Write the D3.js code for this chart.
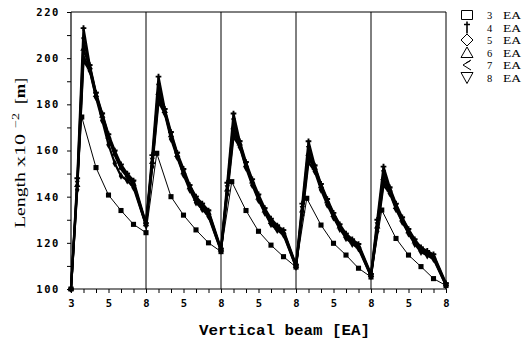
<!DOCTYPE html>
<html><head><meta charset="utf-8">
<script src="https://cdn.jsdelivr.net/npm/d3@7"></script>
<style>body{margin:0;background:#fff}svg{display:block}</style>
</head><body>
<svg id="c" width="529" height="341"></svg>
<script>
// ---- data ----
const seriesNames = ["3 EA", "4 EA", "5 EA", "6 EA", "7 EA", "8 EA"];
const panelTickLabels = ["3", "", "", "5", "", "", "8"];
const yTickValues = [100, 110, 120, 130, 140, 150, 160, 170, 180, 190, 200, 210, 220];
const yLabelValues = [100, 120, 140, 160, 180, 200, 220];
const panelCount = 5;
const ticksPerPanel = 6;
// positions of the points inside one panel (in tick steps)
const sqX = [0.86, 2, 3, 4, 5, 6];
const thickX = [0.5, 1, 1.5, 2, 2.5, 3, 3.5, 4, 4.5, 5, 6];

const ea3 = [100,
  174.5, 152.6, 140.7, 134, 128, 124.4,
  158.8, 140, 132, 125.6, 120, 116.2,
  146.5, 134, 125, 119, 114, 109.5,
  139.3, 127.7, 119.8, 114.7, 109, 105.2,
  134.2, 121.9, 114.7, 109.7, 104.5, 101.5];
const ea4 = [100,
  148, 213, 197, 185, 176, 167, 160, 154, 150, 147, 128.5,
  158, 192, 178, 168, 159, 152, 145, 140, 137, 134, 117.5,
  146, 176, 164, 155, 147.5, 141, 135, 130.5, 127.5, 125.5, 110.5,
  137, 164, 153.5, 145.5, 139, 133, 128, 124, 121.5, 119.5, 106.5,
  130, 153, 144, 137, 131, 126, 121.5, 118, 116.5, 115, 102.5];
const ea5 = [100,
  143, 199, 194.5, 183, 173, 162.5, 154.5, 149, 147, 144, 127.5,
  153, 181, 176, 165, 157, 149.5, 143, 137.5, 134.5, 131.5, 116.5,
  141, 166, 161.5, 152.5, 145, 138.5, 133, 128, 125.5, 123.5, 109.5,
  132, 155, 151, 143, 136.5, 131, 126, 122, 119.5, 117.5, 105.5,
  125, 145, 141.5, 134.5, 129, 124, 119.5, 116, 114.5, 113, 101.5];
const ea6 = [100,
  145, 204, 196, 184, 175, 166, 158.5, 152.5, 149, 145.5, 128,
  155, 185, 177, 166.5, 158, 150.5, 144, 139, 136, 133, 117,
  143, 170, 163, 153.5, 146.5, 139.5, 134, 129, 126.5, 124.5, 110,
  134, 158.5, 152.5, 144.5, 138, 132, 127, 123, 120.5, 118.5, 106,
  127, 148, 143, 135.5, 130, 125, 120.5, 117, 115.5, 114, 102];
const ea7 = [100,
  144, 201, 195, 183.5, 174.5, 165.5, 158, 152, 148.5, 145, 127.5,
  154, 183, 176.5, 166, 157.5, 150, 143.5, 138, 135, 132, 116.5,
  142, 168, 162, 153, 146, 139, 133.5, 128.5, 126, 124, 109.5,
  133, 157, 152, 144, 137.5, 131.5, 126.5, 122.5, 120, 118, 105.5,
  126, 146.5, 142, 135, 129.5, 124.5, 120, 116.5, 115, 113.5, 101.5];
const ea8 = [100,
  146, 208, 196.5, 184.5, 175.5, 166.5, 159, 153, 149.5, 146, 128,
  156, 188, 177.5, 167, 158.5, 151, 144.5, 139.5, 136.5, 133.5, 117,
  144, 173, 163.5, 154, 147, 140, 134.5, 129.5, 127, 125, 110,
  135, 161, 153, 145, 138.5, 132.5, 127.5, 123.5, 121, 119, 106,
  128, 150.5, 143.5, 136, 130.5, 125.5, 121, 117.5, 116, 114.5, 102];

// ---- drawing ----
const svg = d3.select("#c");
const x = d3.scaleLinear().domain([0, panelCount * ticksPerPanel]).range([71, 446]);
const y = d3.scaleLinear().domain([100, 220]).range([289, 12]);

function buildPoints(values, offsets) {
  const pts = [{ x: 0, y: values[0] }];
  for (let p = 0; p < panelCount; p++) {
    offsets.forEach((o, j) => pts.push({ x: p * ticksPerPanel + o, y: values[1 + p * offsets.length + j] }));
  }
  return pts;
}

const triDown = { draw(ctx, size) { const s = Math.sqrt(size) * 0.62; ctx.moveTo(-s, -s * 0.8); ctx.lineTo(s, -s * 0.8); ctx.lineTo(0, s); ctx.closePath(); } };
const series = [
  { name: seriesNames[0], vals: ea3, offs: sqX, sym: d3.symbolSquare, w: 1, size: 26 },
  { name: seriesNames[1], vals: ea4, offs: thickX, sym: d3.symbolCross, w: 2.2, size: 18 },
  { name: seriesNames[2], vals: ea5, offs: thickX, sym: d3.symbolDiamond, w: 2.2, size: 18 },
  { name: seriesNames[3], vals: ea6, offs: thickX, sym: d3.symbolTriangle, w: 2.2, size: 18 },
  { name: seriesNames[4], vals: ea7, offs: thickX, sym: d3.symbolTimes, w: 2.2, size: 18 },
  { name: seriesNames[5], vals: ea8, offs: thickX, sym: triDown, w: 2.2, size: 18 }
];

// frame & separators
const g = svg.append("g");
g.append("line").attr("x1", x(0)).attr("x2", x(30)).attr("y1", y(220)).attr("y2", y(220)).attr("stroke", "#000");
g.append("line").attr("x1", x(30)).attr("x2", x(30)).attr("y1", y(220)).attr("y2", y(100)).attr("stroke", "#000");
for (let p = 1; p < panelCount; p++) {
  g.append("line").attr("x1", x(p * ticksPerPanel)).attr("x2", x(p * ticksPerPanel))
    .attr("y1", y(220)).attr("y2", y(100)).attr("stroke", "#000").attr("stroke-width", 1);
}

// axes
const yAxis = d3.axisLeft(y).tickValues(yTickValues).tickSize(4).tickPadding(7)
  .tickFormat(d => yLabelValues.includes(d) ? String(d) : "");
const ya = svg.append("g").attr("transform", `translate(${x(0)},0)`).call(yAxis);
const xTickVals = d3.range(0, panelCount * ticksPerPanel + 1);
const xAxis = d3.axisBottom(x).tickValues(xTickVals).tickSize(4).tickPadding(7)
  .tickFormat(d => { const k = d % ticksPerPanel; if (d === 0) return panelTickLabels[0]; return k === 0 ? panelTickLabels[6] : panelTickLabels[k] ? panelTickLabels[k] : ""; });
const xa = svg.append("g").attr("transform", `translate(0,${y(100)})`).call(xAxis);
[ya, xa].forEach(a => {
  a.select(".domain").attr("stroke", "#000").attr("stroke-width", 1.2);
  a.selectAll(".tick line").attr("stroke", "#000");
  a.selectAll("text").attr("font-family", "DejaVu Sans Mono").attr("font-weight", "bold")
    .attr("font-size", 10.5).attr("fill", "#000");
});
ya.selectAll("text").attr("letter-spacing", 1.6);
ya.select(".domain").attr("d", `M0,${y(220)}V${y(100)}`);
xa.select(".domain").attr("d", `M${x(0)},0H${x(30)}`);

// lines and markers
const line = d3.line().x(d => x(d.x)).y(d => y(d.y));
series.slice().reverse().forEach(s => {
  const pts = buildPoints(s.vals, s.offs);
  svg.append("path").datum(pts).attr("d", line).attr("fill", "none")
    .attr("stroke", "#000").attr("stroke-width", s.w).attr("stroke-linejoin", "round");
  svg.append("g").selectAll("path").data(pts).join("path")
    .attr("transform", d => `translate(${x(d.x)},${y(d.y)})`)
    .attr("d", d3.symbol().type(s.sym).size(s.size)).attr("fill", "#000");
});

// legend
const legendSyms = [
  "M-5.5,-4.5H5.5V4.5H-5.5Z",
  "M0,-6V6M-3,-3H3",
  "M0,-6L6,0L0,6L-6,0Z",
  "M0,-5.5L6,5H-6Z",
  "M4,-5L-4,0L4,5M-1,-2L3,-4",
  "M-6,-5H6L0,6Z"
];
const leg = svg.append("g");
seriesNames.forEach((n, i) => {
  const cy = 15 + i * 12.5;
  leg.append("path").attr("d", legendSyms[i]).attr("transform", `translate(467,${cy})`)
    .attr("fill", "none").attr("stroke", "#000").attr("stroke-width", i === 1 ? 1.6 : 1);
  const parts = n.split(" ");
  leg.append("text").attr("x", 487).attr("y", cy + 4).text(parts[0])
    .attr("font-family", "Liberation Serif").attr("font-size", 10.5).attr("fill", "#000");
  leg.append("text").attr("x", 503).attr("y", cy + 4).text(parts[1])
    .attr("font-family", "Liberation Serif").attr("font-size", 10.5).attr("fill", "#000")
    .attr("textLength", 18).attr("lengthAdjust", "spacingAndGlyphs");
});

// x title
svg.append("text").attr("x", 199).attr("y", 335).text("Vertical beam [EA]")
  .attr("font-family", "Liberation Mono").attr("font-weight", "bold").attr("font-size", 15)
  .attr("textLength", 171).attr("lengthAdjust", "spacingAndGlyphs").attr("fill", "#000");

// y title
const yt = svg.append("text").attr("transform", "translate(25,0) rotate(-90)")
  .attr("font-family", "Liberation Serif").attr("font-size", 15).attr("fill", "#000");
yt.append("tspan").attr("x", -228).attr("y", 0).attr("textLength", 56).attr("lengthAdjust", "spacingAndGlyphs").text("Length");
yt.append("tspan").attr("x", -167).attr("y", 0).attr("textLength", 33).attr("lengthAdjust", "spacingAndGlyphs").text("x10");
yt.append("tspan").attr("x", -128).attr("y", -6).attr("font-size", 10).attr("textLength", 15).attr("lengthAdjust", "spacingAndGlyphs").text("−2");
yt.append("tspan").attr("x", -104).attr("y", 0).attr("textLength", 26).attr("lengthAdjust", "spacingAndGlyphs").text("[").append("tspan").attr("font-weight", "900").text("m").select(function(){return this.parentNode;}).append("tspan").text("]");
</script>
</body></html>
